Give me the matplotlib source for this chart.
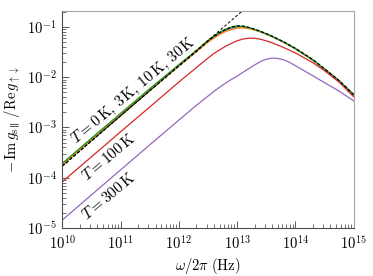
import numpy as np
import matplotlib
matplotlib.use('Agg')
import matplotlib.pyplot as plt

plt.rcParams['font.family'] = 'serif'
plt.rcParams['font.serif'] = ['cmr10', 'DejaVu Serif']
plt.rcParams['mathtext.fontset'] = 'cm'
plt.rcParams['axes.formatter.use_mathtext'] = True

# log10 of frequency (Hz) where values were read
logf = [10.0, 10.5, 11.0, 11.5, 12.0, 12.3, 12.5, 12.6, 12.7, 12.8, 12.9, 13.0, 13.1,
        13.2, 13.3, 13.4, 13.5, 13.6, 13.7, 13.8, 13.9, 14.0, 14.3, 14.5, 14.75, 15.0]

T3 = [1.86e-4, 5.9e-4, 1.84e-3, 5.7e-3, 1.72e-2, 3.3e-2, 5.2e-2, 6.3e-2, 7.5e-2, 8.6e-2,
      9.5e-2, 1.0e-1, 1.0e-1, 9.6e-2, 8.9e-2, 8.1e-2, 7.3e-2, 6.5e-2, 5.7e-2, 5.0e-2,
      4.3e-2, 3.7e-2, 2.2e-2, 1.45e-2, 8.5e-3, 4.5e-3]
T10 = [1.8e-4, 5.7e-4, 1.78e-3, 5.5e-3, 1.67e-2, 3.2e-2, 5.0e-2, 6.0e-2, 7.1e-2, 8.1e-2,
       8.9e-2, 9.5e-2, 9.6e-2, 9.3e-2, 8.7e-2, 8.0e-2, 7.2e-2, 6.4e-2, 5.65e-2, 4.95e-2,
       4.3e-2, 3.7e-2, 2.2e-2, 1.45e-2, 8.5e-3, 4.5e-3]
T30 = [1.93e-4, 6.1e-4, 1.9e-3, 5.9e-3, 1.77e-2, 3.4e-2, 5.4e-2, 6.6e-2, 7.8e-2, 9.0e-2,
       9.9e-2, 1.05e-1, 1.03e-1, 9.7e-2, 8.9e-2, 8.1e-2, 7.3e-2, 6.5e-2, 5.7e-2, 5.0e-2,
       4.3e-2, 3.7e-2, 2.2e-2, 1.45e-2, 8.5e-3, 4.5e-3]
T100 = [8.3e-5, 2.6e-4, 8.2e-4, 2.55e-3, 8.0e-3, 1.55e-2, 2.4e-2, 2.95e-2, 3.5e-2, 4.1e-2,
        4.7e-2, 5.3e-2, 5.75e-2, 5.98e-2, 5.95e-2, 5.7e-2, 5.3e-2, 4.85e-2, 4.35e-2, 3.9e-2,
        3.45e-2, 3.05e-2, 1.95e-2, 1.35e-2, 8.0e-3, 4.1e-3]
T300 = [1.44e-5, 4.55e-5, 1.43e-4, 4.5e-4, 1.4e-3, 2.75e-3, 4.2e-3, 5.2e-3, 6.3e-3, 7.6e-3,
        9.0e-3, 1.05e-2, 1.25e-2, 1.48e-2, 1.75e-2, 2.05e-2, 2.28e-2, 2.4e-2, 2.36e-2, 2.22e-2,
        1.98e-2, 1.7e-2, 1.07e-2, 7.8e-3, 5.3e-3, 3.4e-3]
T0 = [1.7e-4, 5.4e-4, 1.7e-3, 5.35e-3, 1.66e-2, 3.25e-2, 5.2e-2, 6.4e-2, 7.7e-2, 8.9e-2,
      9.9e-2, 1.05e-1, 1.04e-1, 9.8e-2, 9.0e-2, 8.2e-2, 7.35e-2, 6.55e-2, 5.75e-2, 5.05e-2,
      4.35e-2, 3.75e-2, 2.25e-2, 1.47e-2, 8.6e-3, 4.5e-3]

# low-frequency asymptote (read at its two ends)
asym_f = [1e10, 1.3e13]
asym_v = [1.7e-4, 0.22]

freq = 10.0 ** np.array(logf)

fig = plt.figure(figsize=(3.73, 2.76), dpi=100)
ax = fig.add_axes([0.167, 0.174, 0.781, 0.787])

ax.plot(freq, T3, color='C0', lw=1)
ax.plot(freq, T10, color='C1', lw=1)
ax.plot(freq, T30, color='C2', lw=1)
ax.plot(freq, T100, color='C3', lw=0.9)
ax.plot(freq, T300, color='C4', lw=0.9)
ax.plot(freq, T0, color='k', ls=(0, (2.5, 1.5)), lw=0.9)
ax.plot(asym_f, asym_v, color='k', ls=(0, (3, 2)), lw=0.7)

ax.set_xscale('log')
ax.set_yscale('log')
ax.set_xlim(1e10, 1e15)
ax.set_ylim(1e-5, 0.21)

ax.text(10**11.23, 10**-2.28, r'$T = 0\,\mathrm{K},\,3\,\mathrm{K},\,10\,\mathrm{K},\,30\,\mathrm{K}$',
        rotation=40, rotation_mode='anchor', ha='center', va='center', fontsize=11)
ax.text(10**10.79, 10**-3.6, r'$T = 100\,\mathrm{K}$',
        rotation=40, rotation_mode='anchor', ha='center', va='center', fontsize=11)
ax.text(10**10.79, 10**-4.36, r'$T = 300\,\mathrm{K}$',
        rotation=40, rotation_mode='anchor', ha='center', va='center', fontsize=11)

ax.set_xlabel(r'$\omega/2\pi\ \mathrm{(Hz)}$', fontsize=10.5, labelpad=2)
ax.set_ylabel(r'$-\,\mathrm{Im}\,g_{\mathrm{s}\parallel}\,/\mathrm{Re}\,g_{\uparrow\downarrow}$',
              fontsize=10.5, labelpad=3)

ax.xaxis.set_major_locator(matplotlib.ticker.LogLocator(base=10, numticks=10))
ax.xaxis.set_minor_locator(matplotlib.ticker.LogLocator(base=10, subs=np.arange(2, 10), numticks=20))
ax.yaxis.set_minor_locator(matplotlib.ticker.LogLocator(base=10, subs=np.arange(2, 10), numticks=20))
ax.tick_params(which='both', direction='in', top=False, right=False, labelsize=10.5, color='0.35')
ax.tick_params(which='major', length=5, width=0.7, pad=4)
ax.tick_params(which='minor', length=3, width=0.6)
ax.tick_params(axis='x', which='both', pad=5)

for s in ['top', 'right']:
    ax.spines[s].set_color('0.65')
for s in ['left', 'bottom']:
    ax.spines[s].set_color('0.3')
for s in ax.spines.values():
    s.set_linewidth(0.8)

fig.savefig('out.png', dpi=100)
